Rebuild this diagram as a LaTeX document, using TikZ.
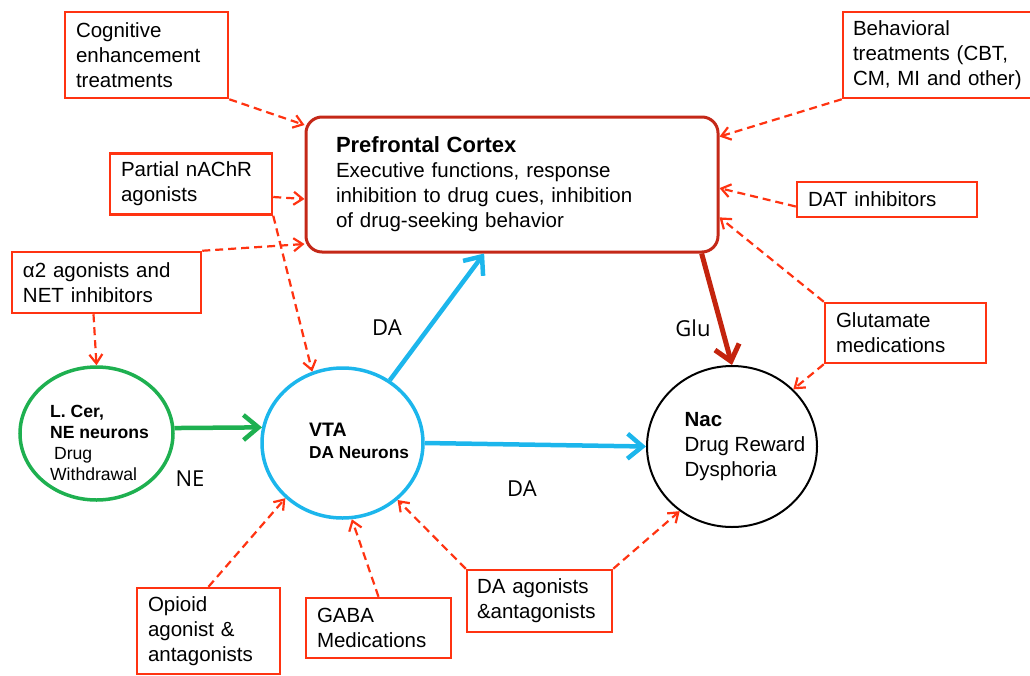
\documentclass[tikz,border=0pt]{standalone}
\usepackage{fontspec}
\setmainfont{Liberation Sans}
\newfontfamily\lblfont{Open Sans}
\usetikzlibrary{arrows.meta,shapes.geometric}
\definecolor{boxred}{RGB}{255,51,17}
\definecolor{pfcred}{RGB}{196,40,24}
\definecolor{glured}{RGB}{196,36,14}
\definecolor{cergreen}{RGB}{30,176,80}
\definecolor{vtablue}{RGB}{28,182,236}

\begin{document}
\begin{tikzpicture}
[x=1pt,y=-1pt,
 txt/.style={font=\fontsize{20.5}{25}\selectfont},
 medbox/.style={draw=boxred,line width=2.5pt,align=left,inner xsep=11pt,inner ysep=0pt,txt},
 region/.style={ellipse,line width=3.5pt,inner sep=0pt},
 dasharr/.style={draw=boxred,line width=2.2pt,dash pattern=on 8pt off 5pt,-{Straight Barb[length=9pt,width=13pt]}},
 bigarr/.style={line width=4.5pt,-{Straight Barb[length=15pt,width=25pt]}},
 flowlbl/.style={font=\lblfont\fontsize{22}{26}\selectfont}]

\useasboundingbox (0,0) rectangle (1030,675);

\node[draw=pfcred,line width=3pt,rounded corners=16pt,minimum width=412pt,minimum height=135pt,
  text width=352pt,inner xsep=30pt,align=left,txt] (pfc) at (512,184.5)
  {{\fontsize{22}{25}\selectfont\bfseries Prefrontal Cortex}\\Executive functions, response\\inhibition to drug cues, inhibition\\of drug-seeking behavior};

\node[medbox,text width=141pt,minimum height=86pt] (cog) at (146.5,55) {Cognitive\\enhancement\\treatments};
\node[medbox,text width=178pt,inner xsep=10pt,minimum height=86pt] (beh) at (942,55) {Behavioral\\treatments (CBT,\\CM, MI and other)};
\node[medbox,text width=140pt,minimum height=61pt] (nach) at (191,184) {Partial nAChR\\agonists};
\node[medbox,text width=167pt,minimum height=61pt] (alpha) at (106.5,282.5) {α2 agonists and\\NET inhibitors};
\node[medbox,text width=158pt,minimum height=35pt] (dat) at (887,199.5) {DAT inhibitors};
\node[medbox,text width=139pt,minimum height=60pt] (glut) at (905.5,333) {Glutamate\\medications};
\node[medbox,text width=121pt,minimum height=86pt] (opi) at (208.5,631) {Opioid\\agonist \&\\antagonists};
\node[medbox,text width=123pt,minimum height=60pt] (gaba) at (378.5,628) {GABA\\Medications};
\node[medbox,text width=125pt,inner xsep=10pt,minimum height=62pt] (daag) at (539.5,601) {DA agonists\\\&antagonists};

\node[region,draw=cergreen,minimum width=153pt,minimum height=133pt] (lcer) at (96.5,433.5) {};
\node[region,draw=vtablue,minimum width=161pt,minimum height=150pt] (vta) at (342.5,443) {};
\node[region,draw=black,line width=2pt,minimum width=170pt,minimum height=161pt] (nac) at (732,446.5) {};

\node[align=left,font=\fontsize{17.6}{21}\selectfont,inner sep=0pt] (lcertext) at (99.5,442.5)
  {\textbf{L. Cer,}\\\textbf{NE neurons}\\\hspace*{4pt}Drug\\Withdrawal};
\node[align=left,font=\fontsize{17.3}{22}\selectfont\bfseries,inner sep=0pt] (vtatext) at (359,441)
  {{\fontsize{19.5}{22}\selectfont VTA}\\DA Neurons};
\node[align=left,txt,inner sep=0pt] (nactext) at (745,447) {\textbf{Nac}\\Drug Reward\\Dysphoria};

\node[flowlbl] (dalbl) at (387,328) {DA};
\node[flowlbl] (glulbl) at (693,328) {Glu};
\node[flowlbl] (nelbl) at (190,479) {NE};
\node[flowlbl] (dalbltwo) at (522,489) {DA};

\draw[bigarr,cergreen] (lcer.4) -- (vta.169);
\draw[bigarr,vtablue] (vta.53) -- (pfc.248);
\draw[bigarr,vtablue] (vta.east) -- (nac.west);
\draw[bigarr,glured,line width=5pt] (pfc.-20) -- (nac.north);

\coordinate (nachout) at ([yshift=-13pt]nach.east);
\coordinate (alphaout) at ([xshift=-13pt]alpha.south);
\coordinate (datout) at ([yshift=-7pt]dat.west);

\foreach \from/\to in {cog.south east/pfc.164,nachout/pfc.184,nach.south east/vta.113,
  alpha.north east/pfc.196,alphaout/lcer.north,beh.south west/pfc.13,datout/pfc.-1,
  glut.north west/pfc.-9,glut.south west/nac.43,opi.north/vta.224,gaba.north/vta.277,
  daag.north west/vta.314,daag.north east/nac.231}
\draw[dasharr] (\from) -- (\to);
\end{tikzpicture}
\end{document}
